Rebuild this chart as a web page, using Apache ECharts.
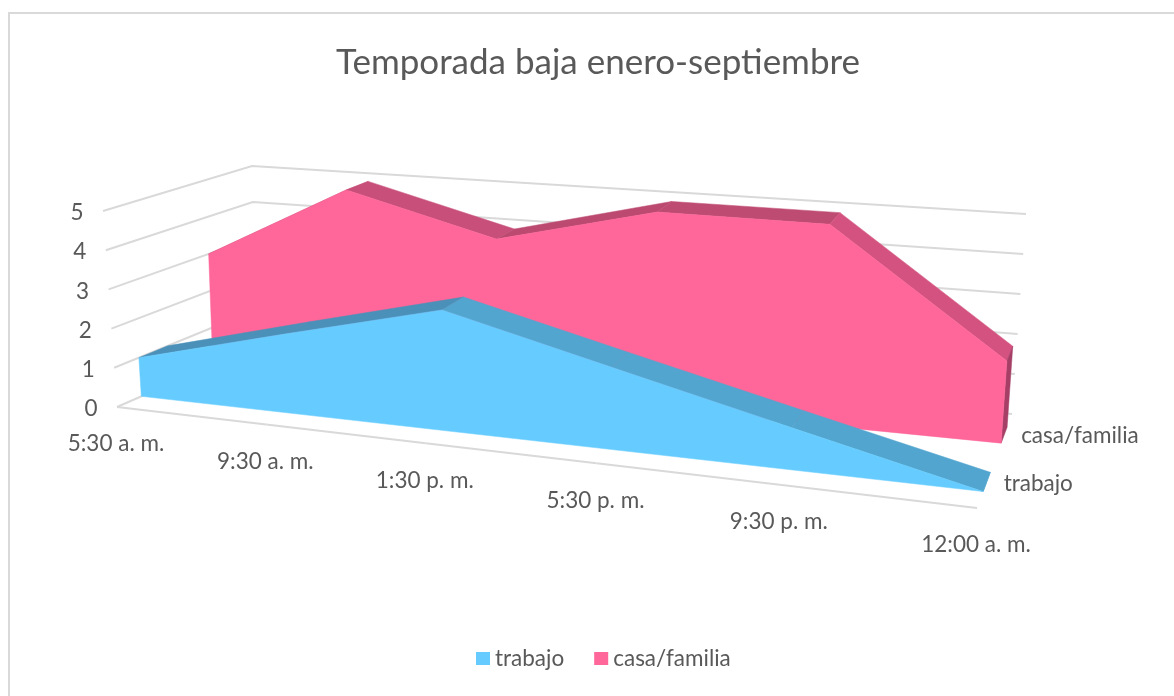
<!DOCTYPE html>
<html>
<head>
<meta charset="utf-8">
<style>
  html, body { margin: 0; padding: 0; background: #fff; }
  #chart { width: 1174px; height: 696px; }
</style>
<script src="https://cdn.jsdelivr.net/npm/echarts@6/dist/echarts.min.js"></script>
</head>
<body>
<div id="chart"></div>
<script>
var categories = ['5:30 a. m.', '9:30 a. m.', '1:30 p. m.', '5:30 p. m.', '9:30 p. m.', '12:00 a. m.'];
var yTicks = [0, 1, 2, 3, 4, 5];
var trabajo = [1, 2, 3, 2, 1, 0];
var casaFamilia = [3, 5, 4, 5, 5, 2];

var FONT = 'Lato, "Open Sans", sans-serif';
var TEXT = '#595959';
var GRID_LINE = '#D9D9D9';
var LABEL_SIZE = 22.5;

// hidden cartesian grid: gives the scales, the result is then projected to the 3d box
var GRID = { left: 100, top: 100, width: 800, height: 400 };
// box corners on screen [x, y]: f/b front/back, l/r left/right, 0/1 bottom/top of the value axis
var BOX = {
  fl0: [117, 407], bl0: [256, 346], br0: [1012, 414], fr0: [977, 508],
  fl1: [103, 211], bl1: [252, 166], br1: [1026, 214], fr1: [992, 290]
};
var PERSPECTIVE = 0.84;

function lerp(a, b, t) {
  return [a[0] + (b[0] - a[0]) * t, a[1] + (b[1] - a[1]) * t];
}
function project(api, i, value, z) {
  var p = api.coord([i, value]);
  var u = (p[0] - GRID.left) / GRID.width;
  var v = (GRID.top + GRID.height - p[1]) / GRID.height;
  u = PERSPECTIVE * u / (1 + (PERSPECTIVE - 1) * u);
  var bottom = lerp(lerp(BOX.fl0, BOX.fr0, u), lerp(BOX.bl0, BOX.br0, u), z);
  var top = lerp(lerp(BOX.fl1, BOX.fr1, u), lerp(BOX.bl1, BOX.br1, u), z);
  return lerp(bottom, top, v);
}
function poly(points, color) {
  return { type: 'polygon', shape: { points: points }, style: { fill: color, stroke: color, lineWidth: 0.5 }, silent: true };
}
function label(text, pos, align, size) {
  return {
    type: 'text', silent: true,
    style: { text: text, x: pos[0], y: pos[1], textAlign: align, textVerticalAlign: 'middle', fill: TEXT, font: size + 'px ' + FONT }
  };
}

// one band of the 3d area: top faces, end face and front face
function areaItem(values, z1, z2, colors) {
  return function (params, api) {
    if (params.dataIndex !== 0) return null;
    var last = values.length - 1;
    var children = [];
    for (var i = 0; i < last; i++) {
      var d = values[i + 1] - values[i];
      var c = d > 0 ? colors.rise : d < 0 ? colors.fall : colors.flat;
      if (i === last - 1) c = colors.lastFall || c;
      children.push(poly([
        project(api, i, values[i], z1), project(api, i + 1, values[i + 1], z1),
        project(api, i + 1, values[i + 1], z2), project(api, i, values[i], z2)
      ], c));
    }
    children.push(poly([
      project(api, last, values[last], z1), project(api, last, values[last], z2),
      project(api, last, 0, z2), project(api, last, 0, z1)
    ], colors.side));
    var front = [project(api, 0, 0, z1)];
    values.forEach(function (v, k) { front.push(project(api, k, v, z1)); });
    front.push(project(api, last, 0, z1));
    children.push(poly(front, colors.front));
    return { type: 'group', children: children };
  };
}

var option = {
  backgroundColor: '#fff',
  animation: false,
  title: {
    text: 'Temporada baja enero-septiembre',
    left: 331, top: 40,
    textStyle: { fontFamily: FONT, fontSize: 35, fontWeight: 'normal', color: TEXT }
  },
  legend: {
    data: ['trabajo', 'casa/familia'],
    left: 476, top: 647, padding: 0,
    icon: 'rect', itemWidth: 14, itemHeight: 13, itemGap: 30,
    textStyle: { fontFamily: FONT, fontSize: LABEL_SIZE, color: TEXT }
  },
  graphic: [{
    type: 'rect', silent: true,
    shape: { x: 9, y: 13, width: 1300, height: 900 },
    style: { fill: 'none', stroke: GRID_LINE, lineWidth: 2 }
  }],
  grid: { left: GRID.left, top: GRID.top, width: GRID.width, height: GRID.height },
  xAxis: { type: 'category', data: categories, boundaryGap: false, show: false },
  yAxis: { type: 'value', min: 0, max: 5, interval: 1, show: false },
  series: [
    {
      name: 'walls', type: 'custom', coordinateSystem: 'cartesian2d', clip: false, z: 1,
      data: yTicks.map(function (t) { return [0, t]; }),
      renderItem: function (params, api) {
        var t = api.value(1);
        var left = project(api, 0, t, 0);
        var line = [left, project(api, 0, t, 1), project(api, categories.length - 1, t, 1)];
        return {
          type: 'group',
          children: [
            { type: 'polyline', silent: true, shape: { points: line }, style: { fill: 'none', stroke: GRID_LINE, lineWidth: 2 } },
            label(String(yTicks[params.dataIndex]), [left[0] - 26, left[1] + 2], 'center', LABEL_SIZE)
          ]
        };
      }
    },
    {
      name: 'floor', type: 'custom', coordinateSystem: 'cartesian2d', clip: false, z: 1,
      data: categories.map(function (c, i) { return [i, 0]; }),
      renderItem: function (params, api) {
        var i = api.value(0);
        var p = project(api, i, 0, 0);
        var children = [label(categories[i], [p[0] - 1, p[1] + 37], 'center', LABEL_SIZE)];
        if (i > 0) {
          children.push({
            type: 'line', silent: true,
            shape: { x1: project(api, i - 1, 0, 0)[0], y1: project(api, i - 1, 0, 0)[1], x2: p[0], y2: p[1] },
            style: { stroke: GRID_LINE, lineWidth: 2 }
          });
        }
        return { type: 'group', children: children };
      }
    },
    {
      name: 'casa/familia', type: 'custom', coordinateSystem: 'cartesian2d', clip: false, z: 2,
      itemStyle: { color: '#FF6699' },
      data: casaFamilia.map(function (v, i) { return [i, v]; }),
      renderItem: areaItem(casaFamilia, 0.69, 0.86, { front: '#FF6699', rise: '#BC4A70', flat: '#BE4B72', fall: '#C84F7A', lastFall: '#D4527F', side: '#A53F66' })
    },
    {
      name: 'trabajo', type: 'custom', coordinateSystem: 'cartesian2d', clip: false, z: 3,
      itemStyle: { color: '#66CCFF' },
      data: trabajo.map(function (v, i) { return [i, v]; }),
      renderItem: areaItem(trabajo, 0.175, 0.38, { front: '#66CCFF', rise: '#4A90B8', flat: '#4F9EC6', fall: '#52A5CE', side: '#52A5CE' })
    },
    {
      name: 'depth labels', type: 'custom', coordinateSystem: 'cartesian2d', clip: false, z: 4,
      data: [[categories.length - 1, 0]],
      renderItem: function (params, api) {
        var last = categories.length - 1;
        var a = project(api, last, 0, 0.275);
        var b = project(api, last, 0, 0.775);
        return {
          type: 'group',
          children: [
            label('trabajo', [a[0] + 17, a[1] + 2], 'left', LABEL_SIZE),
            label('casa/familia', [b[0] + 17, b[1] + 1], 'left', LABEL_SIZE)
          ]
        };
      }
    }
  ]
};

var chart = echarts.init(document.getElementById('chart'), null, { renderer: 'canvas' });
chart.setOption(option);
</script>
</body>
</html>
